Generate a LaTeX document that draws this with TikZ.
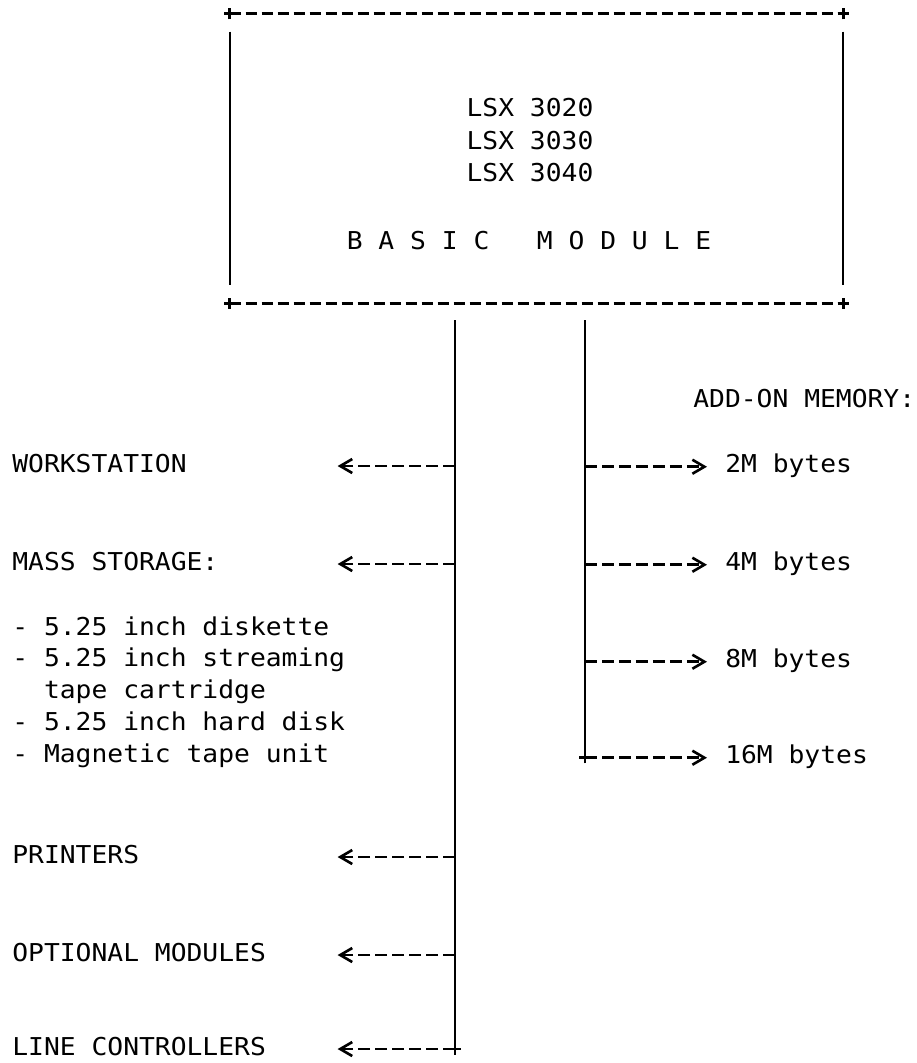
\documentclass[tikz,border=0pt]{standalone}
\usepackage{fontspec}
\usepackage{tikz}
\usetikzlibrary{arrows.meta, positioning, calc}
\newfontfamily\ttyfont[FakeStretch=1.07]{DejaVu Sans Mono}
\newcommand\crossmark[1]{\draw[crossline] ([xshift=-3.2pt]#1) -- ([xshift=3.2pt]#1) ([yshift=-3.2pt]#1) -- ([yshift=3.2pt]#1);}
\tikzset{
  devtext/.style={anchor=base west, inner sep=0pt,
    font=\ttyfont\fontsize{14}{18.14}\selectfont},
  leftdev/.style={devtext, text width=6.5cm, align=flush left,
    text height=6.8pt, text depth=0pt},
  memdev/.style={devtext, inner xsep=10.2pt, text height=6pt, text depth=0pt},
  boxtext/.style={anchor=base, inner sep=0pt,
    font=\ttyfont\fontsize{14}{18.14}\selectfont},
  frame/.style={rectangle, draw=none, inner sep=0pt,
    minimum width=12.26cm, minimum height=5.78cm},
  dashrule/.style={line width=1.4pt, dash pattern=on 0.22cm off 0.1cm},
  busline/.style={line width=1.1pt},
  crossline/.style={line width=1.5pt},
  outarrow/.style={line width=1.6pt, dash pattern=on 0.24cm off 0.1cm,
    -{Straight Barb[length=0.24cm, width=0.28cm, line width=1.5pt]}}
}
\begin{document}
\begin{tikzpicture}[x=0.02cm, y=-0.02cm]
  \useasboundingbox (0,0) rectangle (917,1063);

  % basic module frame
  \node[frame] (basic) at (536.5,158.5) {};
  \draw[dashrule] (basic.north west) -- (basic.north east);
  \draw[dashrule] (basic.south west) -- (basic.south east);
  \draw[busline, shorten <=0.36cm, shorten >=0.36cm] (basic.north west) -- (basic.south west);
  \draw[busline, shorten <=0.36cm, shorten >=0.36cm] (basic.north east) -- (basic.south east);
  \crossmark{basic.north west}
  \crossmark{basic.north east}
  \crossmark{basic.south west}
  \crossmark{basic.south east}

  \node[boxtext] (lsx20) at (530,116) {LSX 3020};
  \node[boxtext] (lsx30) at (530,149) {LSX 3030};
  \node[boxtext] (lsx40) at (530,181) {LSX 3040};
  \node[boxtext] (bmod) at (529,249) {B~A~S~I~C~~~M~O~D~U~L~E};

  % peripherals
  \node[leftdev] (ws) at (12,472) {WORKSTATION};
  \node[leftdev] (mass) at (12,570) {MASS STORAGE:};
  \node[devtext, text width=7cm, align=flush left] (media) at (12,635)
    {- 5.25 inch diskette\\- 5.25 inch streaming\\\hphantom{xx}tape cartridge\\- 5.25 inch hard disk\\- Magnetic tape unit};
  \node[leftdev] (prn) at (12,863) {PRINTERS};
  \node[leftdev] (optm) at (12,961) {OPTIONAL MODULES};
  \node[leftdev] (lctl) at (12,1055) {LINE CONTROLLERS};

  % memory options
  \node[devtext] (addon) at (693,407) {ADD-ON MEMORY:};
  \node[memdev] (mem2) at (707,472) {2M bytes};
  \node[memdev] (mem4) at (707,570) {4M bytes};
  \node[memdev] (mem8) at (707,667) {8M bytes};
  \node[memdev] (mem16) at (707,763) {16M bytes};

  \coordinate (lbus) at (455,320);
  \coordinate (rbus) at (585,320);

  \draw[busline] (lbus) -- (lbus |- lctl.east);
  \draw[busline] (rbus) -- (rbus |- mem16.west);
  \crossmark{lbus |- lctl.east}
  \crossmark{rbus |- mem16.west}

  \draw[outarrow] (ws.east -| lbus) -- (ws.east);
  \draw[outarrow] (mass.east -| lbus) -- (mass.east);
  \draw[outarrow] (prn.east -| lbus) -- (prn.east);
  \draw[outarrow] (optm.east -| lbus) -- (optm.east);
  \draw[outarrow] (lctl.east -| lbus) -- (lctl.east);

  \draw[outarrow] (mem2.west -| rbus) -- (mem2.west);
  \draw[outarrow] (mem4.west -| rbus) -- (mem4.west);
  \draw[outarrow] (mem8.west -| rbus) -- (mem8.west);
  \draw[outarrow] (mem16.west -| rbus) -- (mem16.west);
\end{tikzpicture}
\end{document}
